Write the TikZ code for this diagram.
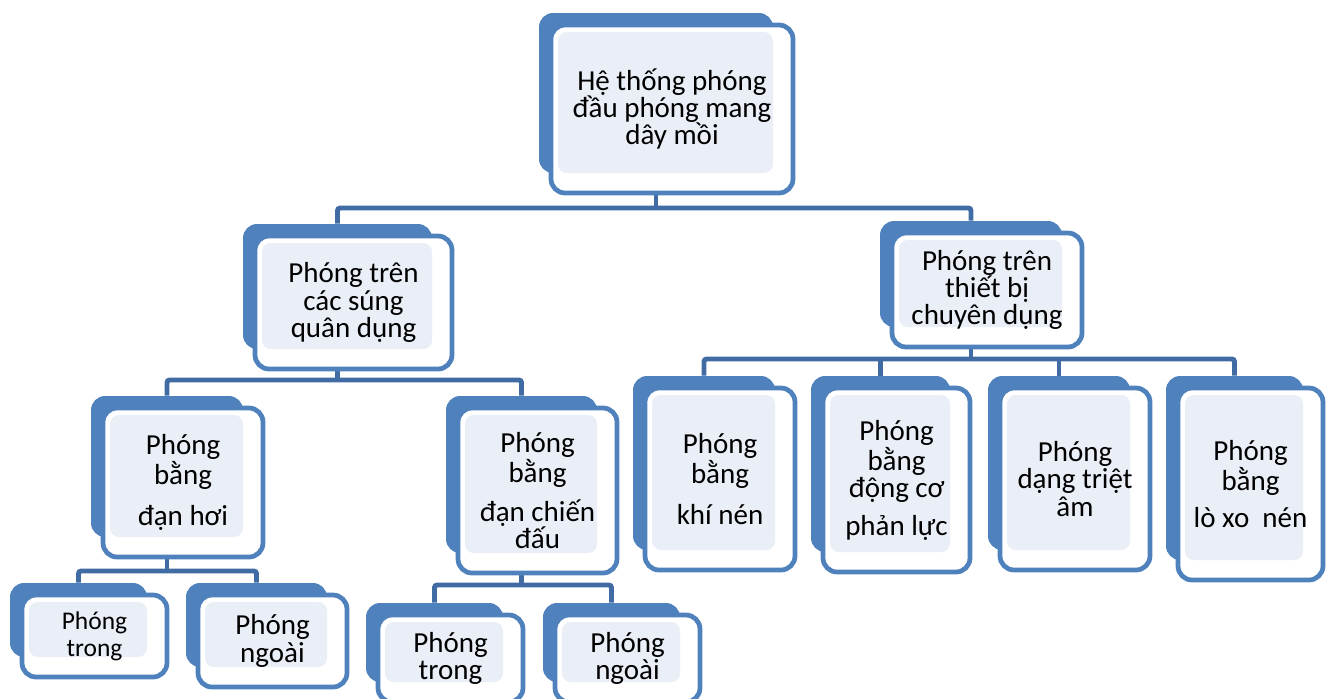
\documentclass[tikz,border=0pt]{standalone}
\usepackage{fontspec}
\setmainfont{Carlito}
\usetikzlibrary{positioning, backgrounds}
\definecolor{boxblue}{RGB}{79, 129, 189}
\definecolor{linkblue}{RGB}{64, 108, 163}
\definecolor{paleblue}{RGB}{233, 238, 247}

\begin{document}
\begin{tikzpicture}[x=0.02cm, y=-0.02cm,
  backbox/.style={fill=boxblue, rounded corners=8pt, inner sep=0pt},
  frontbox/.style={draw=boxblue, line width=2.7pt, fill=white, rounded corners=8pt,
    inner sep=0pt, align=center,
    path picture={\fill[paleblue, rounded corners=5pt]
      ([shift={(0.14cm,-0.14cm)}]path picture bounding box.north west) rectangle
      ([shift={(-0.4cm,0.4cm)}]path picture bounding box.south east);}},
  link/.style={draw=linkblue, line width=2.8pt, rounded corners=1.5pt}
]
  \useasboundingbox (0,0) rectangle (1329,698);
  % boxes: name / left / top / right / bottom of the front frame / font size / text
  \foreach \n/\xa/\ya/\xb/\yb/\fs/\txt in {
    top/551/25/793/193/16.5/{Hệ thống phóng\\đầu phóng mang\\dây mồi},
    quan/255/236/452/369/16.5/{Phóng trên\\các súng\\quân dụng},
    chuyen/892/233/1082/347/16.5/{Phóng trên\\thiết bị\\chuyên dụng},
    danhoi/103/408/263/557/16.5/{Phóng\\bằng\\[8pt]đạn hơi},
    chiendau/458/408/617/573/16.5/{Phóng\\bằng\\[7pt]đạn chiến\\đấu},
    khinen/645/388/795/570/16.5/{Phóng\\bằng\\[8pt]khí nén},
    dongco/823/388/970/572/16.5/{Phóng\\bằng\\động cơ\\[6pt]phản lực},
    trietam/1000/388/1150/570/16.5/{Phóng\\dạng triệt\\âm},
    loxo/1178/388/1323/580/16.5/{Phóng\\bằng\\[6pt]lò xo\ \ nén},
    trong1/22/595/167/677/14.5/{Phóng\\trong},
    ngoai1/198/595/347/687/16.5/{Phóng\\ngoài},
    trong2/378/615/523/702/16.5/{Phóng\\trong},
    ngoai2/555/615/700/702/16.5/{Phóng\\ngoài}%
  }{
    \node[backbox, minimum width={0.02cm*(\xb-\xa-8)}, minimum height={0.02cm*(\yb-\ya-8)}]
      (\n-b) at ({(\xa+\xb)/2-16}, {(\ya+\yb)/2-16}) {};
    \node[frontbox, font=\fontsize{\fs}{15.5}\selectfont,
      minimum width={0.02cm*(\xb-\xa)}, minimum height={0.02cm*(\yb-\ya)}]
      (\n) at ({(\xa+\xb)/2}, {(\ya+\yb)/2}) {\txt};
  }

  % connectors
  \begin{scope}[on background layer]
    \coordinate (bus1) at (0,208);
    \coordinate (bus2) at (0,380);
    \coordinate (bus3) at (0,359);
    \coordinate (bus4) at (0,571);
    \coordinate (bus5) at (0,585);
    \draw[link] (top-b.south) -- (top-b.south |- bus1);
    \draw[link] (quan-b.north) -- (quan-b.north |- bus1) -- (chuyen-b.north |- bus1) -- (chuyen-b.north);
    \draw[link] (quan-b.south) -- (quan-b.south |- bus2);
    \draw[link] (danhoi-b.north) -- (danhoi-b.north |- bus2) -- (chiendau-b.north |- bus2) -- (chiendau-b.north);
    \draw[link] (chuyen-b.south) -- (chuyen-b.south |- bus3);
    \draw[link] (khinen-b.north) -- (khinen-b.north |- bus3) -- (loxo-b.north |- bus3) -- (loxo-b.north);
    \foreach \c in {dongco, trietam}
      \draw[link] (\c-b.north) -- (\c-b.north |- bus3);
    \draw[link] (danhoi-b.south) -- (danhoi-b.south |- bus4);
    \draw[link] (trong1-b.north) -- (trong1-b.north |- bus4) -- (ngoai1-b.north |- bus4) -- (ngoai1-b.north);
    \draw[link] (chiendau-b.south) -- (chiendau-b.south |- bus5);
    \draw[link] (trong2-b.north) -- (trong2-b.north |- bus5) -- (ngoai2-b.north |- bus5) -- (ngoai2-b.north);
  \end{scope}
\end{tikzpicture}
\end{document}
